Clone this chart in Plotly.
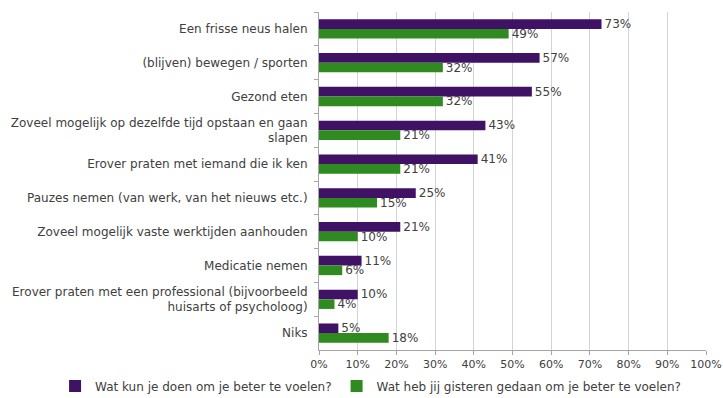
import plotly.graph_objects as go

categories = [
    "Een frisse neus halen",
    "(blijven) bewegen / sporten",
    "Gezond eten",
    "Zoveel mogelijk op dezelfde tijd opstaan en gaan<br>slapen",
    "Erover praten met iemand die ik ken",
    "Pauzes nemen (van werk, van het nieuws etc.)",
    "Zoveel mogelijk vaste werktijden aanhouden",
    "Medicatie nemen",
    "Erover praten met een professional (bijvoorbeeld<br>huisarts of psycholoog)",
    "Niks",
]
series_names = [
    "Wat kun je doen om je beter te voelen?",
    "Wat heb jij gisteren gedaan om je beter te voelen?",
]
kun_doen = [0.73, 0.57, 0.55, 0.43, 0.41, 0.25, 0.21, 0.11, 0.10, 0.05]
gisteren_gedaan = [0.49, 0.32, 0.32, 0.21, 0.21, 0.15, 0.10, 0.06, 0.04, 0.18]
x_ticks = [i / 10 for i in range(11)]

purple = "#3F1266"
green = "#2F8A1F"
text_color = "#404040"
font_family = "DejaVu Sans, Verdana, sans-serif"

fig = go.Figure()
for name, values, color in [
    (series_names[0], kun_doen, purple),
    (series_names[1], gisteren_gedaan, green),
]:
    fig.add_trace(go.Bar(
        y=categories,
        x=values,
        name=name,
        orientation="h",
        marker=dict(color=color, line=dict(width=0)),
        text=[f"{round(v * 100)}%" for v in values],
        textposition="outside",
        constraintext="none",
        cliponaxis=False,
        textfont=dict(size=12, color=text_color, family=font_family),
    ))

fig.update_layout(
    width=723,
    height=398,
    margin=dict(l=319, r=17, t=12, b=48, autoexpand=False),
    paper_bgcolor="white",
    plot_bgcolor="white",
    barmode="group",
    bargap=0.43,
    bargroupgap=0,
    font=dict(family=font_family, size=12, color=text_color),
    legend=dict(
        orientation="h",
        x=-0.682,
        xanchor="left",
        y=-0.1065,
        yanchor="middle",
        font=dict(size=12, color=text_color),
        itemwidth=30,
        tracegroupgap=0,
    ),
    showlegend=True,
)
fig.update_xaxes(
    range=[0, 1],
    tickvals=x_ticks,
    tickformat=".0%",
    showgrid=True,
    gridcolor="#D4D4D4",
    gridwidth=1,
    showline=True,
    linecolor="#A6A6A6",
    ticks="outside",
    ticklen=4,
    tickcolor="#A6A6A6",
    tickfont=dict(size=11, color=text_color),
    zeroline=False,
    fixedrange=True,
)
fig.update_yaxes(
    autorange="reversed",
    showline=True,
    linecolor="#A6A6A6",
    ticks="outside",
    tickson="boundaries",
    ticklen=4,
    tickcolor="#A6A6A6",
    ticklabelstandoff=8,
    tickfont=dict(size=12, color=text_color),
    showgrid=False,
    fixedrange=True,
)

fig.write_html("out.html")
